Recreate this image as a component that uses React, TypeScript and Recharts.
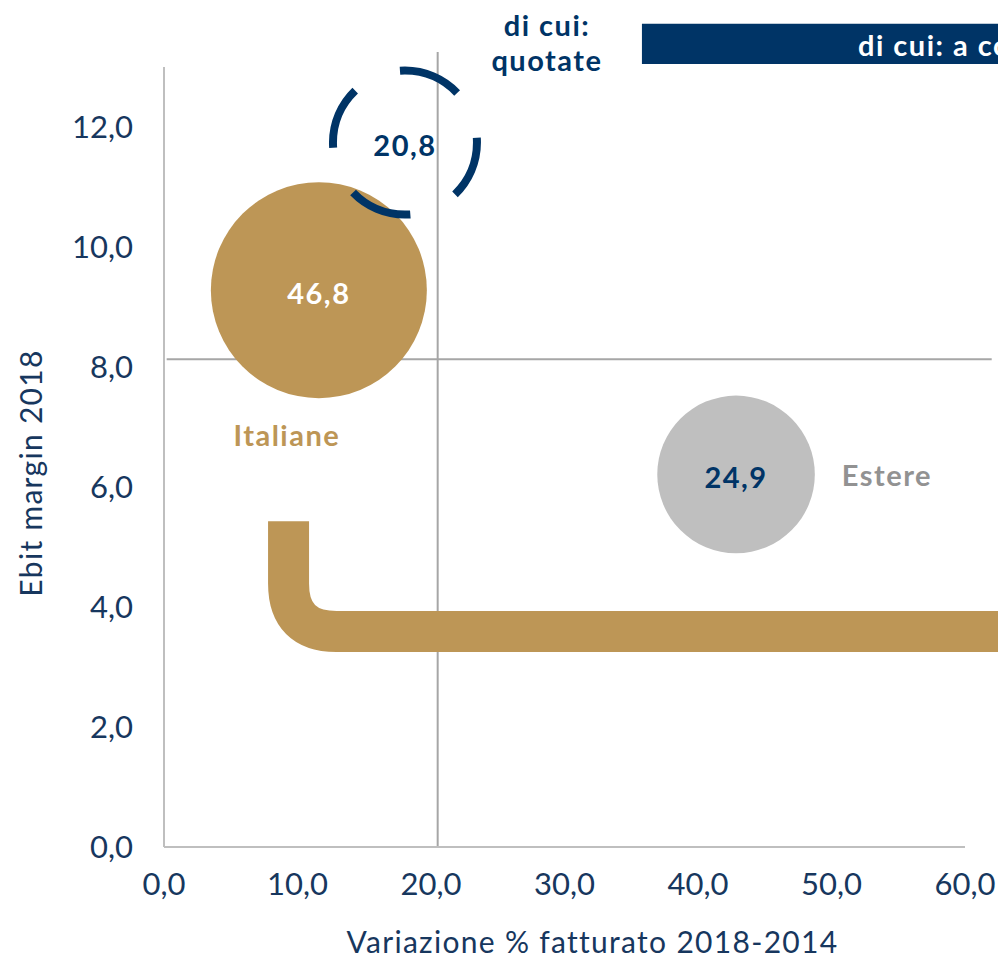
import {
  ReferenceArea,
  ReferenceLine,
  Scatter,
  ScatterChart,
  XAxis,
  YAxis,
  ZAxis,
} from "recharts";

// Bubble groups: x = revenue change 2018-2014 (%), y = Ebit margin 2018, z = bubble value
const groups = ["Italiane", "di cui: quotate", "Estere"];
const revenueGrowth = [11.6, 18.05, 42.85];
const ebitMargin = [9.28, 11.74, 6.21];
const bubbleValue = [46.8, 20.8, 24.9];

const xTicks = [0, 10, 20, 30, 40, 50, 60];
const yTicks = [0, 2, 4, 6, 8, 10, 12];

// quadrant dividers
const growthDivider = 20.5;
const marginDivider = 8.13;

// bracket under "Italiane" and banner on top right
const bracketStart = { x: 9.33, y: 5.43 };
const bracketEnd = { x: 75, y: 3.59 };
const bannerX = [35.8, 75];
const bannerY = [13.05, 13.72];
const bannerText = "di cui: a controllo estero";

const NAVY = "#003466";
const GOLD = "#BD9656";
const GREY = "#BFBFBF";
const TICK = "#17375E";
const FONT = "'Century Gothic', Lato, sans-serif";

const fmt = (v: number) => v.toFixed(1).replace(".", ",");

const points = groups.map((name, i) => ({
  name,
  x: revenueGrowth[i],
  y: ebitMargin[i],
  z: bubbleValue[i],
}));

const radiusOf = (p: any) => (p.width ? p.width / 2 : Math.sqrt(p.size / Math.PI));

const boldText = { fontWeight: 700, fontSize: 29, fontFamily: FONT, letterSpacing: 1.5 };

function ItalianeShape(p: any) {
  const r = radiusOf(p);
  return (
    <g>
      <circle cx={p.cx} cy={p.cy} r={r} fill={GOLD} />
      <text x={p.cx} y={p.cy + 2} textAnchor="middle" dominantBaseline="central" fill="#fff" {...boldText}>
        {fmt(p.payload.z)}
      </text>
      <text x={p.cx - 32} y={p.cy + r + 36} textAnchor="middle" dominantBaseline="central" fill={GOLD} {...boldText}>
        {p.payload.name}
      </text>
    </g>
  );
}

function QuotateShape(p: any) {
  const r = radiusOf(p);
  const c = 2 * Math.PI * r;
  return (
    <g>
      <circle cx={p.cx} cy={p.cy} r={r} fill="none" stroke={NAVY} strokeWidth={8}
        strokeDasharray={`${c * 0.14} ${c * 0.11}`} strokeDashoffset={c * 0.0125} />
      <text x={p.cx} y={p.cy + 2} textAnchor="middle" dominantBaseline="central" fill={NAVY} {...boldText}>
        {fmt(p.payload.z)}
      </text>
      <text x={p.cx + 142} textAnchor="middle" fill={NAVY} {...boldText}>
        <tspan x={p.cx + 142} y={p.cy - 107}>di cui:</tspan>
        <tspan x={p.cx + 142} y={p.cy - 72}>quotate</tspan>
      </text>
    </g>
  );
}

function EstereShape(p: any) {
  const r = radiusOf(p);
  return (
    <g>
      <circle cx={p.cx} cy={p.cy} r={r} fill={GREY} />
      <text x={p.cx} y={p.cy + 2} textAnchor="middle" dominantBaseline="central" fill={NAVY} {...boldText}>
        {fmt(p.payload.z)}
      </text>
      <text x={p.cx + r + 27} y={p.cy} textAnchor="start" dominantBaseline="central" fill="#929292" {...boldText}>
        {p.payload.name}
      </text>
    </g>
  );
}

function BracketShape(p: any) {
  const R = 48;
  const d = `M ${p.x1} ${p.y1} V ${p.y2 - R} Q ${p.x1} ${p.y2} ${p.x1 + R} ${p.y2} H ${p.x2}`;
  return <path d={d} fill="none" stroke={GOLD} strokeWidth={41} />;
}

export default function App() {
  return (
    <div style={{ position: "absolute", left: 0, top: 0, width: 998, height: 960, overflow: "hidden", background: "#fff" }}>
      <ScatterChart width={998} height={960} margin={{ top: 67, right: 33, bottom: 53, left: 0 }}>
        <XAxis
          type="number"
          dataKey="x"
          domain={[0, 60]}
          ticks={xTicks}
          tickFormatter={fmt}
          tickLine={false}
          tickSize={0}
          tickMargin={26}
          height={60}
          axisLine={{ stroke: GREY, strokeWidth: 2 }}
          tick={{ fill: TICK, fontSize: 31, fontFamily: FONT }}
          label={{
            content: ({ viewBox }: any) => (
              <text x={viewBox.x + viewBox.width / 2 + 28} y={viewBox.y + 94}
                textAnchor="middle" dominantBaseline="central" fill={TICK}
                fontSize={30} fontFamily={FONT} letterSpacing={1.3}>
                Variazione % fatturato 2018-2014
              </text>
            ),
          }}
        />
        <YAxis
          type="number"
          dataKey="y"
          domain={[0, 13]}
          ticks={yTicks}
          tickFormatter={fmt}
          tickLine={false}
          tickSize={0}
          tickMargin={31}
          width={164}
          axisLine={{ stroke: GREY, strokeWidth: 2 }}
          tick={{ fill: TICK, fontSize: 31, fontFamily: FONT }}
          label={{
            content: ({ viewBox }: any) => {
              const x = viewBox.x + 30;
              const y = viewBox.y + viewBox.height / 2 + 16;
              return (
                <text x={x} y={y} transform={`rotate(-90 ${x} ${y})`}
                  textAnchor="middle" dominantBaseline="central" fill={TICK}
                  fontSize={30} fontFamily={FONT} letterSpacing={1.3}>
                  Ebit margin 2018
                </text>
              );
            },
          }}
        />
        <ZAxis type="number" dataKey="z" domain={[0, 46.8]} range={[0, Math.PI * 108 * 108]} />

        <ReferenceLine
          segment={[{ x: growthDivider, y: 0 }, { x: growthDivider, y: 13.25 }]}
          stroke="#A6A6A6" strokeWidth={2} ifOverflow="visible"
        />
        <ReferenceLine
          segment={[{ x: 0.2, y: marginDivider }, { x: 62, y: marginDivider }]}
          stroke="#A6A6A6" strokeWidth={2} ifOverflow="visible"
        />
        <ReferenceLine segment={[bracketStart, bracketEnd]} ifOverflow="visible" shape={BracketShape} />
        <ReferenceArea
          x1={bannerX[0]} x2={bannerX[1]} y1={bannerY[0]} y2={bannerY[1]}
          fill={NAVY} fillOpacity={1} stroke="none" ifOverflow="visible"
          label={{
            content: ({ viewBox }: any) => (
              <text x={viewBox.x + 216} y={viewBox.y + viewBox.height / 2 + 1}
                dominantBaseline="central" fill="#fff" {...boldText}>
                {bannerText}
              </text>
            ),
          }}
        />

        <Scatter name={groups[0]} data={[points[0]]} shape={ItalianeShape} isAnimationActive={false} />
        <Scatter name={groups[1]} data={[points[1]]} shape={QuotateShape} isAnimationActive={false} />
        <Scatter name={groups[2]} data={[points[2]]} shape={EstereShape} isAnimationActive={false} />
      </ScatterChart>
    </div>
  );
}
